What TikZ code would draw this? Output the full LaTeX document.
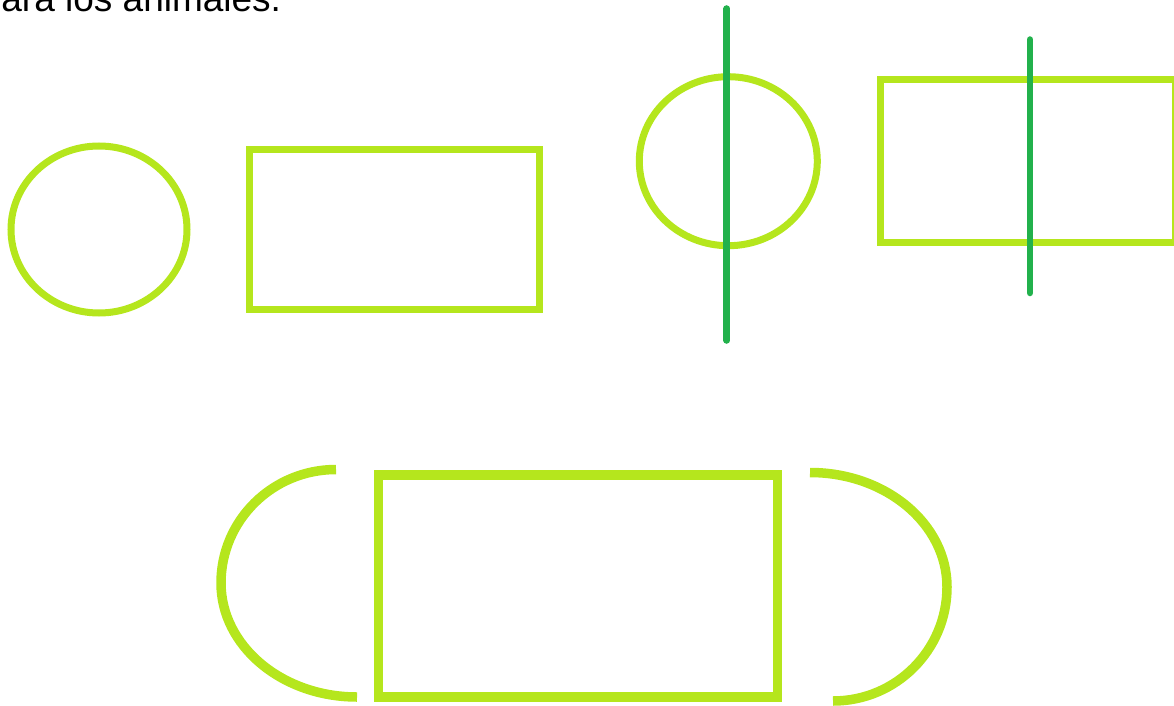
\documentclass[tikz,border=0pt]{standalone}
\usepackage{fontspec}
\setmainfont{Liberation Sans}
\usepackage{tikz}
\definecolor{limeline}{RGB}{181,230,29}
\definecolor{cutgreen}{RGB}{34,177,76}
\tikzset{
  shapeline/.style={draw=limeline,line width=7pt},
  bigshape/.style={draw=limeline,line width=9.5pt},
  cutline/.style={draw=cutgreen,line width=6.5pt,line cap=round}
}

\begin{document}
\begin{tikzpicture}[x=1pt,y=-1pt]
  \useasboundingbox (0,0) rectangle (1174,706);
  \clip (0,0) rectangle (1174,706);
  \node[anchor=base west,inner sep=0pt,font=\fontsize{37}{40}\selectfont] (caption) at (1.2,11.7) {ara los animales.};

  % top row
  \draw[shapeline] (99,229.5) ellipse [x radius=88,y radius=83.5];
  \draw[shapeline] (249.2,149.5) rectangle (539.5,309.5);
  \draw[shapeline] (728.3,161.2) ellipse [x radius=89,y radius=84.5];
  \draw[shapeline] (880.5,79.7) rectangle (1175.5,242);

  \coordinate (cutAtop) at (726.7,8.5);
  \coordinate (cutAbot) at (726.7,340.5);
  \coordinate (cutBtop) at (1030,39.5);
  \coordinate (cutBbot) at (1030,293);
  \draw[cutline] (cutAtop) -- (cutAbot);
  \draw[cutline] (cutBtop) -- (cutBbot);

  % bottom row
  \draw[bigshape] (378.7,475) rectangle (777.3,696.8);
  \draw[bigshape] (336,469.5) .. controls (272.5,469.5) and (221,520.3) .. (221,583)
    .. controls (221,646) and (282,697) .. (357,697);
  \draw[bigshape] (810,472.5) .. controls (885.6,472.5) and (947,523.8) .. (947,587)
    .. controls (947,650) and (896,701) .. (833,701);
\end{tikzpicture}
\end{document}
